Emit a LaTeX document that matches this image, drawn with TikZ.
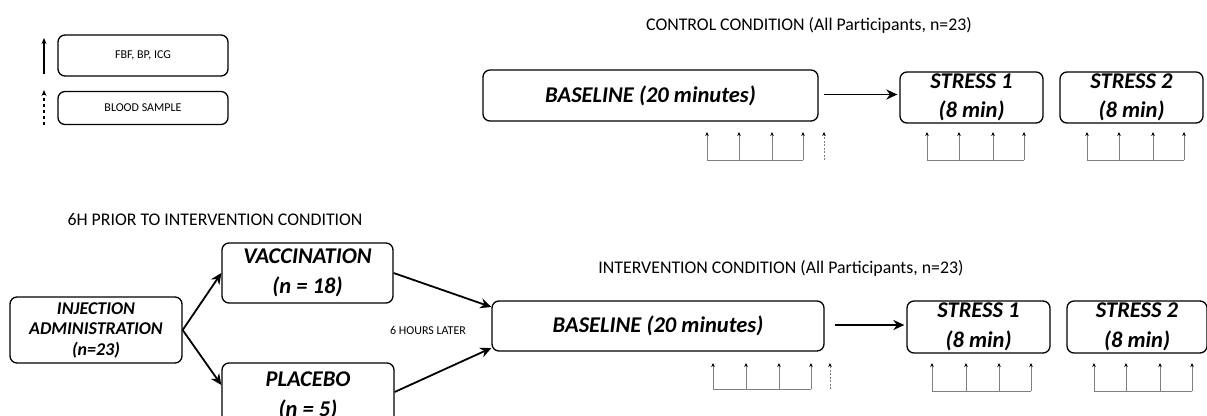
\documentclass[tikz,border=0pt]{standalone}
\usepackage{fontspec}
\setmainfont{Carlito}
\usetikzlibrary{arrows.meta}
\tikzset{
  box/.style={draw, rounded corners=7pt, line width=1.3pt, inner sep=0pt, align=center},
  big/.style={font=\bfseries\itshape\fontsize{22.5}{29.5}\selectfont},
  mid/.style={font=\bfseries\itshape\fontsize{18}{20.5}\selectfont},
  small/.style={font=\fontsize{12}{14}\selectfont},
  ttl/.style={font=\fontsize{17.8}{21}\selectfont},
  main/.style={line width=1.8pt, -{Stealth[length=11pt,width=10pt]}},
  meas/.style={draw=gray, line width=0.8pt},
  measarr/.style={draw=gray, line width=0.8pt, -{Stealth[length=4pt,width=3.5pt,color=black]}},
  legarr/.style={line width=1.1pt, -{Stealth[length=6pt,width=5pt]}}
}
\begin{document}
\begin{tikzpicture}[x=1pt,y=-1pt]
\clip (0,0) rectangle (1207,415);
\useasboundingbox (0,0) rectangle (1207,415);
% legend
\node[box, small, minimum width=170pt, minimum height=41pt] (leg1) at (143,55.5) {FBF, BP, ICG};
\node[box, small, minimum width=170pt, minimum height=33pt] (leg2) at (143,108) {BLOOD SAMPLE};
\coordinate (l1a) at (44,74); \coordinate (l1b) at (44,38);
\coordinate (l2a) at (44,125); \coordinate (l2b) at (44,90);
\draw[legarr] (l1a) -- (l1b);
\draw[legarr, dashed, dash pattern=on 3pt off 3pt] (l2a) -- (l2b);

% control condition
\node[ttl] (ctitle) at (809,25) {CONTROL CONDITION (All Participants, n=23)};
\node[box, big, minimum width=335pt, minimum height=51pt] (cbase) at (650.5,95.5) {BASELINE (20 minutes)};
\node[box, big, minimum width=143pt, minimum height=51pt] (cs1) at (971.5,97.5) {STRESS 1\\(8 min)};
\node[box, big, minimum width=143pt, minimum height=51pt] (cs2) at (1131.5,97.5) {STRESS 2\\(8 min)};
\path (cbase.east) ++(5,-1) coordinate (ca);
\path (cs1.west) ++(-2,-3) coordinate (cb);
\draw[main] (ca) -- (cb);

\draw[meas] (707,160) -- (803,160);
\foreach \x in {707,739,772,803} \draw[measarr] (\x,160) -- (\x,132);
\draw[measarr, dashed, dash pattern=on 2pt off 1.5pt] (824,160) -- (824,132);
\draw[meas] (927,160) -- (1024,160);
\foreach \x in {927,959,993,1024} \draw[measarr] (\x,160) -- (\x,132);
\draw[meas] (1087,160) -- (1184,160);
\foreach \x in {1087,1119,1153,1184} \draw[measarr] (\x,160) -- (\x,132);

% intervention
\node[ttl] (ptitle) at (215,220) {6H PRIOR TO INTERVENTION CONDITION};
\node[ttl] (ititle) at (781,268) {INTERVENTION CONDITION (All Participants, n=23)};
\node[box, mid, minimum width=172pt, minimum height=66pt] (inj) at (96,330) {INJECTION\\ADMINISTRATION\\(n=23)};
\node[box, big, minimum width=171pt, minimum height=60pt] (vac) at (307.5,273) {VACCINATION\\(n = 18)};
\node[box, big, minimum width=172pt, minimum height=66pt] (pla) at (308,396) {PLACEBO\\(n = 5)};
\node[box, big, minimum width=332pt, minimum height=50pt] (ibase) at (658,326) {BASELINE (20 minutes)};
\node[box, big, minimum width=143pt, minimum height=52pt] (is1) at (978.5,327) {STRESS 1\\(8 min)};
\node[box, big, minimum width=140pt, minimum height=52pt] (is2) at (1137,327) {STRESS 2\\(8 min)};
\node[small] (later) at (428,330) {6 HOURS LATER};

\draw[main] (inj.east) -- (vac.west |- 0,273);
\draw[main] (inj.east) -- (pla.west |- 0,385);
\draw[main] (vac.east) -- (ibase.west |- 0,307);
\draw[main] (pla.east |- 0,392) -- (ibase.west |- 0,348);
\path (ibase.east) ++(10,-1) coordinate (ia);
\path (is1.west) ++(-2,-2) coordinate (ib);
\draw[main] (ia) -- (ib);

\draw[meas] (713,389) -- (811,389);
\foreach \x in {713,746,779,811} \draw[measarr] (\x,389) -- (\x,363);
\draw[measarr, dashed, dash pattern=on 2pt off 1.5pt] (830,389) -- (830,363);
\draw[meas] (932,391) -- (1031,391);
\foreach \x in {932,966,999,1031} \draw[measarr] (\x,391) -- (\x,363);
\draw[meas] (1094,391) -- (1192,391);
\foreach \x in {1094,1126,1160,1192} \draw[measarr] (\x,391) -- (\x,363);
\end{tikzpicture}
\end{document}
